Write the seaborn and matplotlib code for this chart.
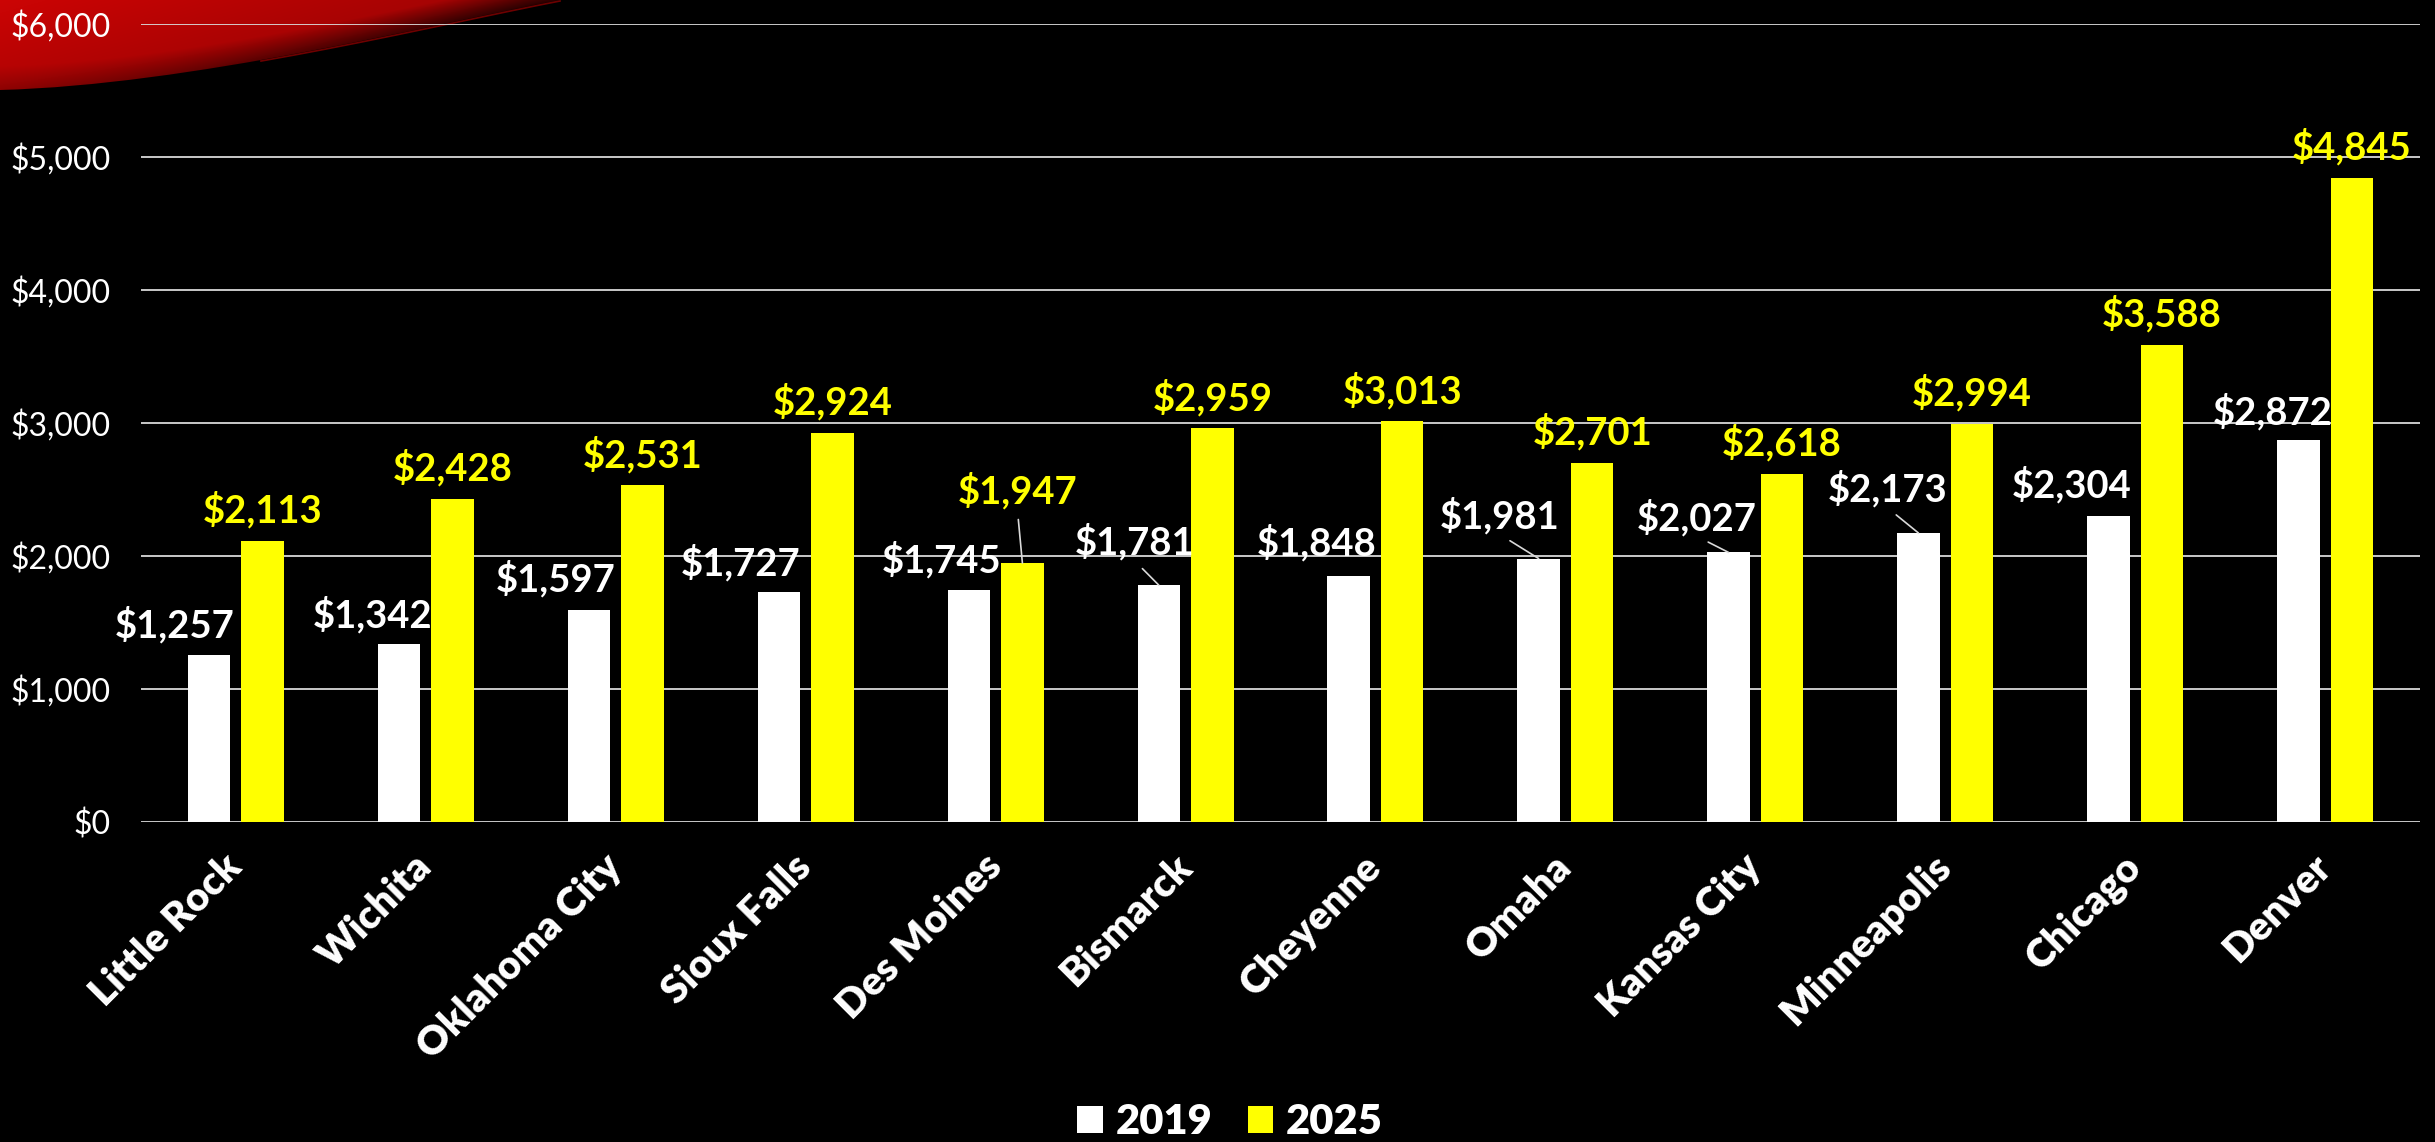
import numpy as np
import pandas as pd
import matplotlib
matplotlib.use("Agg")
import matplotlib.pyplot as plt
import seaborn as sns
from matplotlib.patches import Patch, PathPatch
from matplotlib.path import Path
from matplotlib.ticker import FuncFormatter

# ---- data -------------------------------------------------------------
cities = ["Little Rock", "Wichita", "Oklahoma City", "Sioux Falls", "Des Moines",
          "Bismarck", "Cheyenne", "Omaha", "Kansas City", "Minneapolis",
          "Chicago", "Denver"]
rent_2019 = [1257, 1342, 1597, 1727, 1745, 1781, 1848, 1981, 2027, 2173, 2304, 2872]
rent_2025 = [2113, 2428, 2531, 2924, 1947, 2959, 3013, 2701, 2618, 2994, 3588, 4845]
years = ["2019", "2025"]
y_ticks = [0, 1000, 2000, 3000, 4000, 5000, 6000]

# ---- styling / placement ---------------------------------------------
year_colors = {"2019": "#ffffff", "2025": "#ffff00"}
label_colors = {"2019": "#ffffff", "2025": "#ffff00"}

# value-label nudges in pixels (right, down) from the top centre of each bar
nudge = {
    "2019": [(-35, -33), (-27, -32), (-33, -34), (-38, -33), (-27, -33), (-24, -46),
             (-32, -36), (-39, -46), (-32, -38), (-31, -47), (-37, -34), (-26, -31)],
    "2025": [(0, -34), (0, -34), (0, -34), (0, -34), (-5, -75), (0, -34),
             (0, -34), (0, -34), (0, -34), (0, -34), (0, -34), (0, -34)],
}
# labels that sit away from their bar and get a leader line
leaders = {"2019": {5, 7, 8, 9}, "2025": {4}}

DPI = 100
W_PX, H_PX = 2435, 1142
PX2PT = 72 / DPI
FONT = ["Lato", "DejaVu Sans"]
GRID = "#d9d9d9"

df = pd.DataFrame({
    "city": cities * 2,
    "year": ["2019"] * len(cities) + ["2025"] * len(cities),
    "rent": rent_2019 + rent_2025,
})

plt.rcParams["font.family"] = FONT

fig = plt.figure(figsize=(W_PX / DPI, H_PX / DPI), dpi=DPI, facecolor="black")

# ---- red swoosh in the top-left corner --------------------------------
bg = fig.add_axes([0, 0, 1, 1], zorder=0)
bg.set_facecolor("black")
P0, P1, P2, P3 = (np.array(p, float) for p in [(560, 0), (430, 25), (190, 85), (0, 90)])
verts = [(0, 0), tuple(P0), tuple(P1), tuple(P2), tuple(P3), (0, 0)]
codes = [Path.MOVETO, Path.LINETO, Path.CURVE4, Path.CURVE4, Path.CURVE4, Path.CLOSEPOLY]
swoosh = PathPatch(Path(verts, codes), facecolor="none", edgecolor="none")
bg.add_patch(swoosh)

t = np.linspace(0, 1, 300)[:, None]
curve = (1 - t) ** 3 * P0 + 3 * (1 - t) ** 2 * t * P1 + 3 * (1 - t) * t ** 2 * P2 + t ** 3 * P3
cx, cy = curve[::-1, 0], curve[::-1, 1]
gh, gw = 100, 600
yy, xx = np.mgrid[0:gh, 0:gw] + 0.5
yb = np.interp(xx, cx, cy, right=0)
depth = yb - yy
base = 0.80 - 0.20 * xx / gw - 0.12 * yy / gh
shade = np.clip(1 - depth / 24, 0, 1) * (0.20 + 0.60 * xx / gw)
red = np.clip(base * (1 - shade), 0, 1)
img = np.dstack([red, 0.02 * red, 0.02 * red])
im = bg.imshow(img, extent=(0, gw, gh, 0), interpolation="bilinear", aspect="auto")
im.set_clip_path(swoosh)
rim = curve[curve[:, 0] > 260]
bg.plot(rim[:, 0], rim[:, 1] + 1.0, color="#7a0000", lw=1.2, alpha=0.9)
bg.set_xlim(0, W_PX)
bg.set_ylim(H_PX, 0)
bg.axis("off")

# ---- bars -------------------------------------------------------------
left, right, top, bottom = 141, 2420, 24, 822
ax = fig.add_axes([left / W_PX, (H_PX - bottom) / H_PX,
                   (right - left) / W_PX, (bottom - top) / H_PX], zorder=1)
ax.set_facecolor("none")

sns.barplot(data=df, x="city", y="rent", hue="year", order=cities, hue_order=years,
            palette=year_colors, width=0.564, gap=0.206, saturation=1,
            errorbar=None, linewidth=0, edgecolor="none", legend=False, ax=ax)

ax.set_ylim(0, 6000)
ax.set_yticks(y_ticks)
ax.yaxis.set_major_formatter(FuncFormatter(lambda v, _: f"${v:,.0f}"))
ax.set_xlabel("")
ax.set_ylabel("")
for s in ax.spines.values():
    s.set_visible(False)
ax.set_axisbelow(True)
ax.grid(axis="y", color=GRID, linewidth=1.3)
ax.grid(axis="x", visible=False)

ax.tick_params(axis="y", length=0, pad=22, labelsize=23, labelcolor="white")
for lab in ax.get_yticklabels():
    lab.set_fontfamily(FONT)
    lab.set_fontweight("normal")

ax.tick_params(axis="x", length=0, pad=28, labelsize=29, labelcolor="white")
for lab in ax.get_xticklabels():
    lab.set_fontfamily(FONT)
    lab.set_fontweight("heavy")
    lab.set_rotation(45)
    lab.set_rotation_mode("anchor")
    lab.set_horizontalalignment("right")
    lab.set_verticalalignment("center")

# ---- value labels -----------------------------------------------------
values = {"2019": rent_2019, "2025": rent_2025}
for bar in ax.patches:
    h = bar.get_height()
    if not np.isfinite(h) or h <= 0:
        continue
    xc = bar.get_x() + bar.get_width() / 2
    i = int(round(xc))
    yr = "2019" if xc < i else "2025"
    v = values[yr][i]
    dx, dy = nudge[yr][i]
    arrow = None
    if i in leaders[yr]:
        arrow = dict(arrowstyle="-", color=GRID, lw=1.2, relpos=(0.5, 0.0),
                     shrinkA=5, shrinkB=0)
    ax.annotate(f"${v:,}", xy=(xc, v), xytext=(dx * PX2PT, -(dy + 3) * PX2PT),
                textcoords="offset points", ha="center", va="center",
                color=label_colors[yr], fontsize=27.5, fontweight="bold",
                fontfamily=FONT, arrowprops=arrow, annotation_clip=False)

# ---- legend -----------------------------------------------------------
handles = [Patch(facecolor=year_colors[y], edgecolor="none", label=y) for y in years]
fig.legend(handles=handles, loc="center", bbox_to_anchor=(1230 / W_PX, 1 - 1122 / H_PX),
           ncol=2, frameon=False, prop=dict(family=FONT, weight="heavy", size=30),
           handlelength=0.62, handleheight=0.62, handletextpad=0.3,
           columnspacing=0.85, labelcolor="white", borderpad=0.2)

fig.savefig("out.png", dpi=DPI, facecolor="black")
